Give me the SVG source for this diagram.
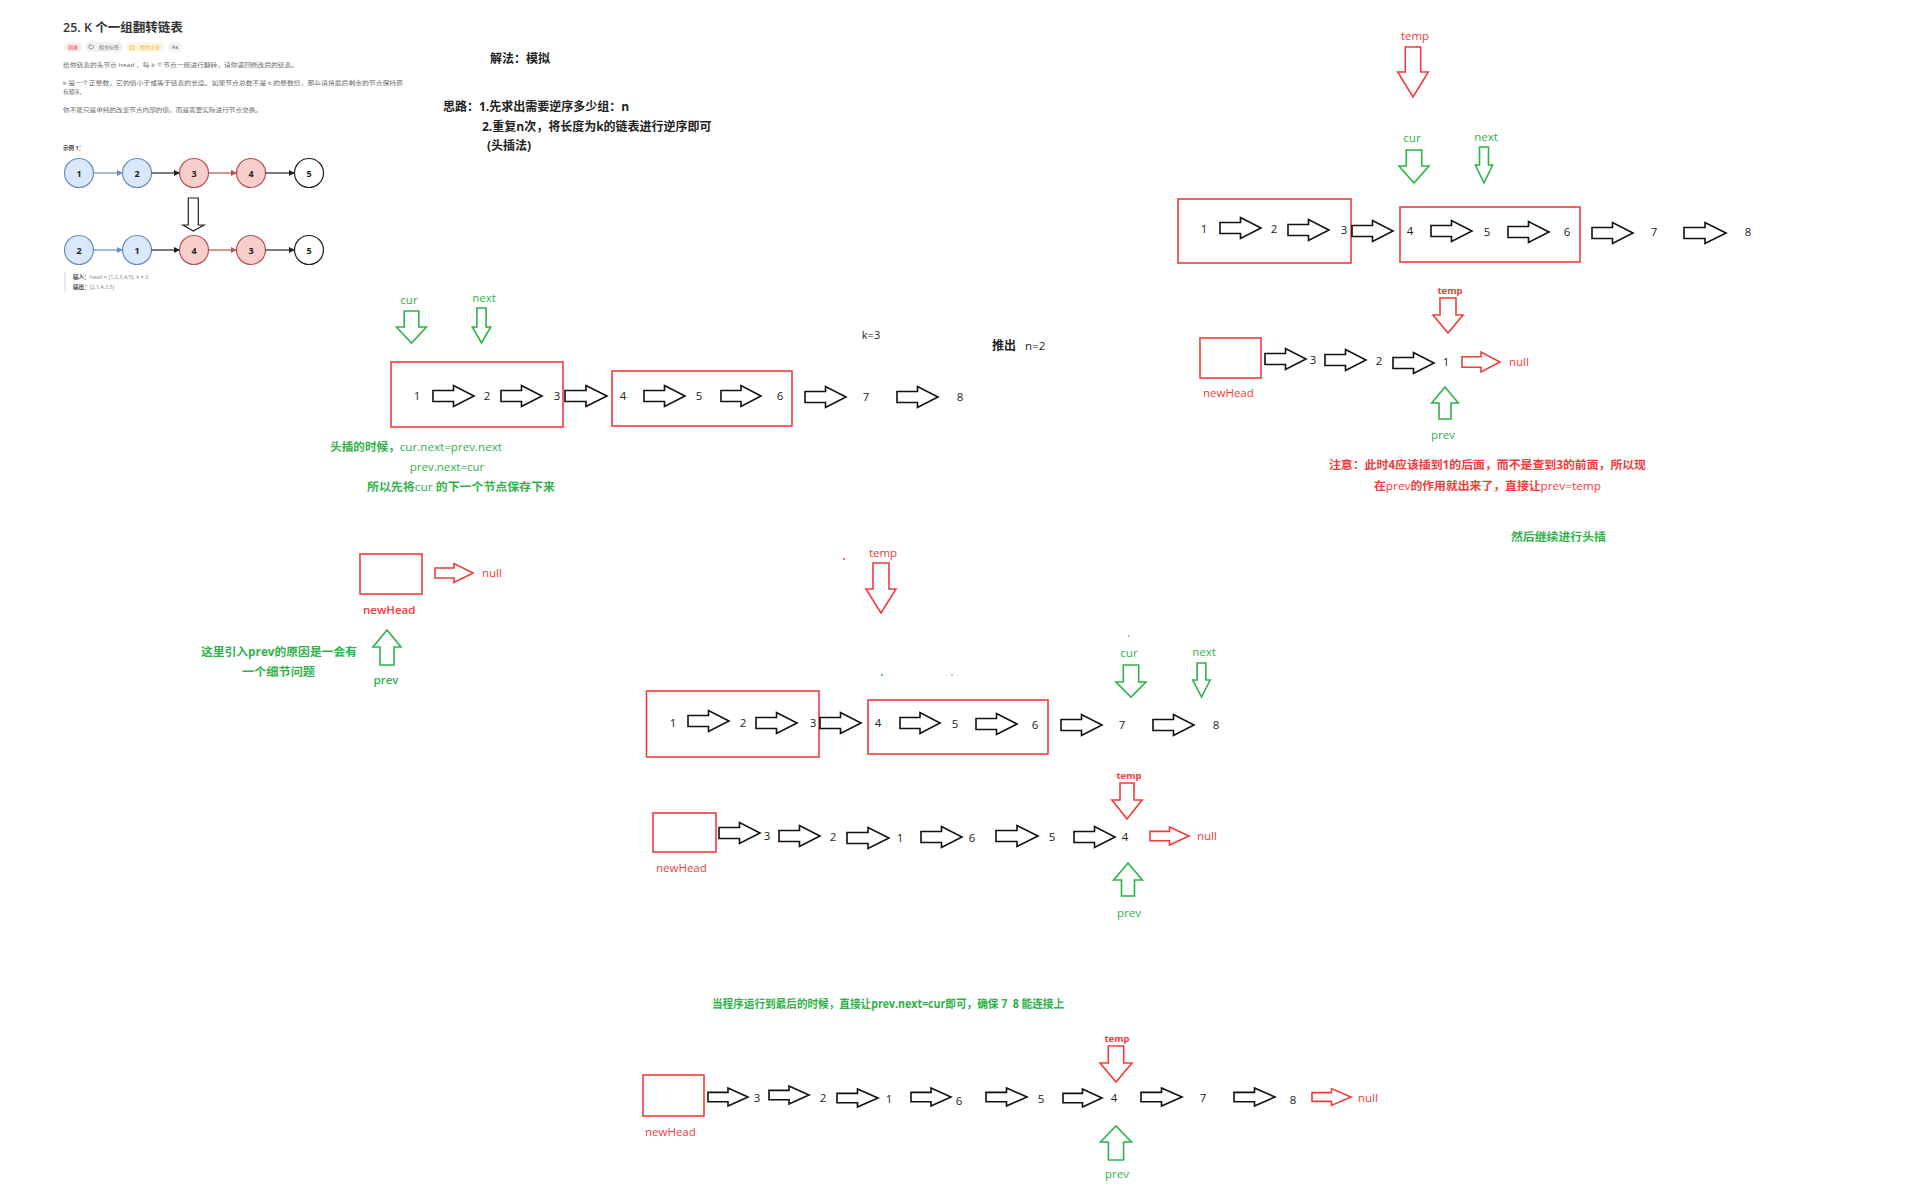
<svg xmlns="http://www.w3.org/2000/svg" xmlns:xlink="http://www.w3.org/1999/xlink" width="1918" height="1187" viewBox="0 0 1918 1187">
<style>
text { font-family: "Open Sans", "Noto Sans", "Noto Sans CJK SC", sans-serif; }
.k { fill: #222; }
.g { fill: #2fb24a; }
.r { fill: #f23b3b; }
.num { font-size: 11.5px; fill: #222; text-anchor: middle; }
.lbl { font-size: 11.5px; text-anchor: middle; }
.sm { font-size: 9.5px; font-weight: bold; text-anchor: middle; }
.note { font-size: 11.5px; font-weight: bold; }
.box { fill: none; stroke: #f23b3b; stroke-width: 1.6; }
.hk { fill: #fff; stroke: #111; stroke-width: 1.6; }
.hr { fill: #fff; stroke: #f23b3b; stroke-width: 1.6; }
.vg { fill: #fff; stroke: #2fb24a; stroke-width: 1.6; stroke-linejoin: miter; }
.vr { fill: #fff; stroke: #f23b3b; stroke-width: 1.6; stroke-linejoin: miter; }
.desc { font-size: 5.5px; fill: #666; }
.cb { fill: #dae8fc; stroke: #6c8ebf; stroke-width: 1.2; }
.cr { fill: #f8cecc; stroke: #b85450; stroke-width: 1.2; }
.cw { fill: #fff; stroke: #222; stroke-width: 1.2; }
.ct { font-size: 9px; font-weight: bold; fill: #222; text-anchor: middle; }
</style>
<defs>
<path id="ha" d="M0,-5.5 H20 V-10.5 L40,0 L20,10.5 V5.5 H0 Z" vector-effect="non-scaling-stroke"/>
<marker id="mb" markerWidth="6" markerHeight="6" refX="5" refY="3" orient="auto" markerUnits="userSpaceOnUse"><path d="M0,0 L6,3 L0,6 Z" fill="#6c8ebf"/></marker>
<marker id="mk" markerWidth="6" markerHeight="6" refX="5" refY="3" orient="auto" markerUnits="userSpaceOnUse"><path d="M0,0 L6,3 L0,6 Z" fill="#222"/></marker>
<marker id="mr" markerWidth="6" markerHeight="6" refX="5" refY="3" orient="auto" markerUnits="userSpaceOnUse"><path d="M0,0 L6,3 L0,6 Z" fill="#b85450"/></marker>
</defs>
<rect width="1918" height="1187" fill="#fff"/>

<!-- Problem statement (top-left) -->
<g id="problem">
<text x="63" y="32" font-size="12.5" font-weight="600" fill="#333">25. K 个一组翻转链表</text>
<rect x="64" y="42" width="18" height="10" rx="5" fill="#fdeeee"/>
<text x="73" y="49" font-size="5" fill="#f04040" text-anchor="middle">困难</text>
<rect x="85" y="42" width="38" height="10" rx="5" fill="#f2f2f2"/>
<path d="M89,45 h3 l2,2 l-2,2 l-3,-1 z" fill="none" stroke="#777" stroke-width="0.7"/>
<text x="109" y="49" font-size="5" fill="#777" text-anchor="middle">相关标签</text>
<rect x="126" y="42" width="39" height="10" rx="5" fill="#fdf5e6"/>
<rect x="130" y="46" width="4" height="3.5" fill="none" stroke="#f5b400" stroke-width="0.7"/>
<text x="150" y="49" font-size="5" fill="#f5b400" text-anchor="middle">相关企业</text>
<rect x="168" y="42" width="14" height="10" rx="5" fill="#f2f2f2"/>
<text x="175" y="49" font-size="5" fill="#555" text-anchor="middle">Aa</text>
<text class="desc" x="63" y="67" textLength="235" lengthAdjust="spacingAndGlyphs">给你链表的头节点 head ，每 k 个节点一组进行翻转，请你返回修改后的链表。</text>
<text class="desc" x="63" y="85" textLength="340" lengthAdjust="spacingAndGlyphs">k 是一个正整数，它的值小于或等于链表的长度。如果节点总数不是 k 的整数倍，那么请将最后剩余的节点保持原</text>
<text class="desc" x="63" y="94">有顺序。</text>
<text class="desc" x="63" y="112" textLength="199" lengthAdjust="spacingAndGlyphs">你不能只是单纯的改变节点内部的值，而是需要实际进行节点交换。</text>
<text x="63" y="150" font-size="5.5" font-weight="bold" fill="#444">示例 1：</text>
</g>

<g id="example-before">
<circle class="cb" cx="79" cy="173" r="14.5"/><text class="ct" x="79" y="176.5">1</text>
<circle class="cb" cx="137" cy="173" r="14.5"/><text class="ct" x="137" y="176.5">2</text>
<circle class="cr" cx="194" cy="173" r="14.5"/><text class="ct" x="194" y="176.5">3</text>
<circle class="cr" cx="251" cy="173" r="14.5"/><text class="ct" x="251" y="176.5">4</text>
<circle class="cw" cx="309" cy="173" r="14.5"/><text class="ct" x="309" y="176.5">5</text>
</g>
<g id="example-after">
<circle class="cb" cx="79" cy="250" r="14.5"/><text class="ct" x="79" y="253.5">2</text>
<circle class="cb" cx="137" cy="250" r="14.5"/><text class="ct" x="137" y="253.5">1</text>
<circle class="cr" cx="194" cy="250" r="14.5"/><text class="ct" x="194" y="253.5">4</text>
<circle class="cr" cx="251" cy="250" r="14.5"/><text class="ct" x="251" y="253.5">3</text>
<circle class="cw" cx="309" cy="250" r="14.5"/><text class="ct" x="309" y="253.5">5</text>
</g>
<g id="example-io">
<rect x="64.5" y="272" width="1.2" height="20" fill="#ddd"/>
<text x="73" y="279" font-size="5.5" fill="#888"><tspan font-weight="bold" fill="#444">输入：</tspan>head = [1,2,3,4,5], k = 2</text>
<text x="73" y="289" font-size="5.5" fill="#888"><tspan font-weight="bold" fill="#444">输出：</tspan>[2,1,4,3,5]</text>
</g>

<!-- Headings -->
<g id="heading">
<text x="490" y="63" font-size="12" font-weight="bold" class="k">解法：模拟</text>
<text x="443" y="111" font-size="12" font-weight="bold" class="k">思路：1.先求出需要逆序多少组：n</text>
<text x="482" y="131" font-size="12" font-weight="bold" class="k">2.重复n次，将长度为k的链表进行逆序即可</text>
<text x="487" y="150" font-size="12" font-weight="bold" class="k">(头插法)</text>
</g>

<!-- Diagram A -->
<g id="diagram-a">
<rect class="box" x="391" y="362" width="172" height="65"/>
<rect class="box" x="612" y="371" width="180" height="55"/>
<text class="num" x="417" y="400">1</text>
<text class="num" x="487" y="400">2</text>
<text class="num" x="557" y="400">3</text>
<text class="num" x="623" y="400">4</text>
<text class="num" x="699" y="400">5</text>
<text class="num" x="780" y="400">6</text>
<text class="num" x="866" y="401">7</text>
<text class="num" x="960" y="401">8</text>
<text class="lbl g" x="409" y="304">cur</text>
<text class="lbl g" x="484" y="302">next</text>
<path class="vg" d="M404.2,311 H418.8 V327 H426.5 L411.5,343 L396.5,327 H404.2 Z"/>
<path class="vg" d="M476.9,308 H486.1 V327 H490.7 L481.5,343 L472.3,327 H476.9 Z"/>
<text x="871" y="339" font-size="11" class="k" text-anchor="middle">k=3</text>
<text x="992" y="350" font-size="12" font-weight="bold" class="k">推出</text>
<text x="1025" y="350" font-size="11.5" class="k">n=2</text>
<text class="note g" x="330" y="451" textLength="172" lengthAdjust="spacingAndGlyphs">头插的时候，<tspan font-weight="normal">cur.next=prev.next</tspan></text>
<text class="g" x="447" y="471" font-size="11.5" text-anchor="middle">prev.next=cur</text>
<text class="note g" x="367" y="491" textLength="188" lengthAdjust="spacingAndGlyphs">所以先将<tspan font-weight="normal">cur </tspan>的下一个节点保存下来</text>
</g>

<!-- Diagram B -->
<g id="diagram-b">
<rect class="box" x="1178" y="199" width="173" height="64"/>
<rect class="box" x="1400" y="207" width="180" height="55"/>
<text class="num" x="1204" y="233">1</text>
<text class="num" x="1274" y="233">2</text>
<text class="num" x="1344" y="234">3</text>
<text class="num" x="1410" y="235">4</text>
<text class="num" x="1487" y="236">5</text>
<text class="num" x="1567" y="236">6</text>
<text class="num" x="1654" y="236">7</text>
<text class="num" x="1748" y="236">8</text>
<text class="lbl r" x="1415" y="40">temp</text>
<path class="vr" d="M1405.3,47 H1420.7 V72 H1428.3 L1413,97 L1397.7,72 H1405.3 Z"/>
<text class="lbl g" x="1412" y="142">cur</text>
<path class="vg" d="M1406.3,150 H1421.7 V166 H1429 L1414,183 L1399,166 H1406.3 Z"/>
<text class="lbl g" x="1486" y="141">next</text>
<path class="vg" d="M1479.5,147 H1488.5 V165 H1492.6 L1484,183 L1475.4,165 H1479.5 Z"/>
</g>
<g id="diagram-b2">
<rect class="box" x="1200" y="338" width="61" height="40"/>
<text x="1203" y="397" font-size="11.5" class="r">newHead</text>
<text class="num" x="1313" y="364">3</text>
<text class="num" x="1379" y="365">2</text>
<text class="num" x="1446" y="366">1</text>
<text x="1509" y="366" font-size="11.5" class="r">null</text>
<text class="sm r" x="1450" y="294">temp</text>
<path class="vr" d="M1440,298 H1456 V315 H1463 L1448,333 L1433,315 H1440 Z"/>
<path class="vg" d="M1439,419 H1451 V403 H1458.3 L1445,387 L1431.7,403 H1439 Z"/>
<text class="lbl g" x="1443" y="439">prev</text>
<text class="note r" x="1329" y="469" font-size="12" textLength="317" lengthAdjust="spacingAndGlyphs">注意：此时4应该插到1的后面，而不是查到3的前面，所以现</text>
<text class="note r" x="1374" y="490" font-size="12" textLength="227" lengthAdjust="spacingAndGlyphs">在<tspan font-weight="normal">prev</tspan>的作用就出来了，直接让<tspan font-weight="normal">prev=temp</tspan></text>
<text class="note g" x="1511" y="541" textLength="95" lengthAdjust="spacingAndGlyphs">然后继续进行头插</text>
</g>

<!-- Diagram C -->
<g id="diagram-c">
<rect class="box" x="360" y="554" width="62" height="40"/>
<text x="482" y="577" font-size="11.5" class="r">null</text>
<text x="363" y="614" font-size="11.5" font-weight="600" class="r">newHead</text>
<path class="vg" d="M380,665 H394 V647 H401 L387,630 L373,647 H380 Z"/>
<text class="lbl g" x="386" y="684" font-weight="600">prev</text>
<text class="note g" x="201" y="656" textLength="156" lengthAdjust="spacingAndGlyphs">这里引入prev的原因是一会有</text>
<text class="note g" x="242" y="676" textLength="73" lengthAdjust="spacingAndGlyphs">一个细节问题</text>
</g>

<!-- Diagram D -->
<g id="diagram-d">
<circle cx="844" cy="559" r="1" fill="#f23b3b"/>
<circle cx="1129" cy="636" r="0.8" fill="#f23b3b"/>
<circle cx="882" cy="675" r="1" fill="#2fb24a"/>
<circle cx="952" cy="675" r="0.8" fill="#2fb24a"/>
<text class="lbl r" x="883" y="557">temp</text>
<path class="vr" d="M873,563 H889 V589 H896 L881,613 L866,589 H873 Z"/>
<text class="lbl g" x="1129" y="657">cur</text>
<path class="vg" d="M1123.3,665 H1138.7 V682 H1146 L1131,697 L1116,682 H1123.3 Z"/>
<text class="lbl g" x="1204" y="656">next</text>
<path class="vg" d="M1197.1,663 H1205.9 V680 H1210.2 L1201.5,697 L1192.8,680 H1197.1 Z"/>
<rect class="box" x="646.5" y="691" width="172.5" height="66"/>
<rect class="box" x="868" y="700" width="180" height="54"/>
<text class="num" x="673" y="727">1</text>
<text class="num" x="743" y="727">2</text>
<text class="num" x="813" y="727">3</text>
<text class="num" x="878" y="727">4</text>
<text class="num" x="955" y="728">5</text>
<text class="num" x="1035" y="729">6</text>
<text class="num" x="1122" y="729">7</text>
<text class="num" x="1216" y="729">8</text>
</g>
<g id="diagram-d2">
<rect class="box" x="653" y="813" width="63" height="39"/>
<text x="656" y="872" font-size="11.5" class="r">newHead</text>
<text class="num" x="767" y="840">3</text>
<text class="num" x="833" y="841">2</text>
<text class="num" x="900" y="842">1</text>
<text class="num" x="972" y="842">6</text>
<text class="num" x="1052" y="841">5</text>
<text class="num" x="1125" y="841">4</text>
<text x="1197" y="840" font-size="11.5" class="r">null</text>
<text class="sm r" x="1129" y="779">temp</text>
<path class="vr" d="M1120,783 H1134 V800 H1142 L1127,819 L1112,800 H1120 Z"/>
<path class="vg" d="M1121.5,896 H1134.5 V880 H1142.3 L1128,863 L1113.7,880 H1121.5 Z"/>
<text class="lbl g" x="1129" y="917">prev</text>
</g>

<!-- Diagram E -->
<g id="diagram-e">
<text class="note g" x="712" y="1008" font-size="10" textLength="352" lengthAdjust="spacingAndGlyphs">当程序运行到最后的时候，直接让prev.next=cur即可，确保 7 &#160;8 能连接上</text>
<text class="sm r" x="1117" y="1042">temp</text>
<path class="vr" d="M1108.3,1046 H1123.7 V1063 H1132 L1116,1082 L1100,1063 H1108.3 Z"/>
<rect class="box" x="643" y="1075" width="61" height="41"/>
<text x="645" y="1136" font-size="11.5" class="r">newHead</text>
<text class="num" x="757" y="1102">3</text>
<text class="num" x="823" y="1102">2</text>
<text class="num" x="889" y="1103">1</text>
<text class="num" x="959" y="1105">6</text>
<text class="num" x="1041" y="1103">5</text>
<text class="num" x="1114" y="1102">4</text>
<text class="num" x="1203" y="1102">7</text>
<text class="num" x="1293" y="1104">8</text>
<text x="1358" y="1102" font-size="11.5" class="r">null</text>
<path class="vg" d="M1108.4,1160 H1123.6 V1142 H1131.5 L1116,1126 L1100.5,1142 H1108.4 Z"/>
<text class="lbl g" x="1117" y="1178">prev</text>
</g>

<!-- Connectors -->
<g id="connectors">
<line x1="93.5" y1="173" x2="122" y2="173" stroke="#6c8ebf" stroke-width="1.2" marker-end="url(#mb)"/>
<line x1="151.5" y1="173" x2="179" y2="173" stroke="#222" stroke-width="1.2" marker-end="url(#mk)"/>
<line x1="208.5" y1="173" x2="236" y2="173" stroke="#b85450" stroke-width="1.2" marker-end="url(#mr)"/>
<line x1="265.5" y1="173" x2="294" y2="173" stroke="#222" stroke-width="1.2" marker-end="url(#mk)"/>
<line x1="93.5" y1="250" x2="122" y2="250" stroke="#6c8ebf" stroke-width="1.2" marker-end="url(#mb)"/>
<line x1="151.5" y1="250" x2="179" y2="250" stroke="#222" stroke-width="1.2" marker-end="url(#mk)"/>
<line x1="208.5" y1="250" x2="236" y2="250" stroke="#b85450" stroke-width="1.2" marker-end="url(#mr)"/>
<line x1="265.5" y1="250" x2="294" y2="250" stroke="#222" stroke-width="1.2" marker-end="url(#mk)"/>
<path d="M188.3,198 H198.3 V225 H204 L193.3,231 L183,225 H188.3 Z" fill="#fff" stroke="#222" stroke-width="1.2"/>

<use href="#ha" class="hk" transform="translate(433,396) scale(1.025,1)"/>
<use href="#ha" class="hk" transform="translate(501,396) scale(1.025,1)"/>
<use href="#ha" class="hk" transform="translate(565,396) scale(1.05,1)"/>
<use href="#ha" class="hk" transform="translate(644,396) scale(1.025,1)"/>
<use href="#ha" class="hk" transform="translate(721,396) scale(1,1)"/>
<use href="#ha" class="hk" transform="translate(805,397) scale(1.025,1)"/>
<use href="#ha" class="hk" transform="translate(897,397) scale(1.025,1)"/>

<use href="#ha" class="hk" transform="translate(1220,228) scale(1.025,1)"/>
<use href="#ha" class="hk" transform="translate(1288,230) scale(1.025,1)"/>
<use href="#ha" class="hk" transform="translate(1352,231) scale(1.025,1)"/>
<use href="#ha" class="hk" transform="translate(1431,231) scale(1.025,1)"/>
<use href="#ha" class="hk" transform="translate(1508,232) scale(1.025,1)"/>
<use href="#ha" class="hk" transform="translate(1592,233) scale(1.025,1)"/>
<use href="#ha" class="hk" transform="translate(1684,233) scale(1.05,1)"/>

<use href="#ha" class="hk" transform="translate(1265,359) scale(1.025,1)"/>
<use href="#ha" class="hk" transform="translate(1325,360) scale(1.025,1)"/>
<use href="#ha" class="hk" transform="translate(1393,363) scale(1.025,1)"/>
<use href="#ha" class="hr" transform="translate(1462,362) scale(0.95,0.95)"/>

<use href="#ha" class="hr" transform="translate(435,573) scale(0.95,0.9)"/>

<use href="#ha" class="hk" transform="translate(688,721) scale(1.025,1)"/>
<use href="#ha" class="hk" transform="translate(756,723) scale(1.025,1)"/>
<use href="#ha" class="hk" transform="translate(820,723) scale(1.025,1)"/>
<use href="#ha" class="hk" transform="translate(900,723) scale(1,1)"/>
<use href="#ha" class="hk" transform="translate(976,724) scale(1.025,1)"/>
<use href="#ha" class="hk" transform="translate(1061,725) scale(1.025,1)"/>
<use href="#ha" class="hk" transform="translate(1153,725) scale(1.025,1)"/>

<use href="#ha" class="hk" transform="translate(719,833) scale(1.025,1)"/>
<use href="#ha" class="hk" transform="translate(779,836) scale(1.025,1)"/>
<use href="#ha" class="hk" transform="translate(847,838) scale(1.05,1)"/>
<use href="#ha" class="hk" transform="translate(921,837) scale(1.025,1)"/>
<use href="#ha" class="hk" transform="translate(996,836) scale(1.05,1)"/>
<use href="#ha" class="hk" transform="translate(1074,837) scale(1.025,1)"/>
<use href="#ha" class="hr" transform="translate(1150,836) scale(0.975,0.85)"/>

<use href="#ha" class="hk" transform="translate(708,1097) scale(1,0.85)"/>
<use href="#ha" class="hk" transform="translate(769,1095) scale(1,0.85)"/>
<use href="#ha" class="hk" transform="translate(837,1098) scale(1.025,0.85)"/>
<use href="#ha" class="hk" transform="translate(911,1097) scale(1,0.85)"/>
<use href="#ha" class="hk" transform="translate(986,1097) scale(1.025,0.85)"/>
<use href="#ha" class="hk" transform="translate(1063,1098) scale(0.975,0.85)"/>
<use href="#ha" class="hk" transform="translate(1141,1097) scale(1.025,0.85)"/>
<use href="#ha" class="hk" transform="translate(1234,1097) scale(1.025,0.85)"/>
<use href="#ha" class="hr" transform="translate(1312,1097) scale(0.975,0.8)"/>
</g>
</svg>
